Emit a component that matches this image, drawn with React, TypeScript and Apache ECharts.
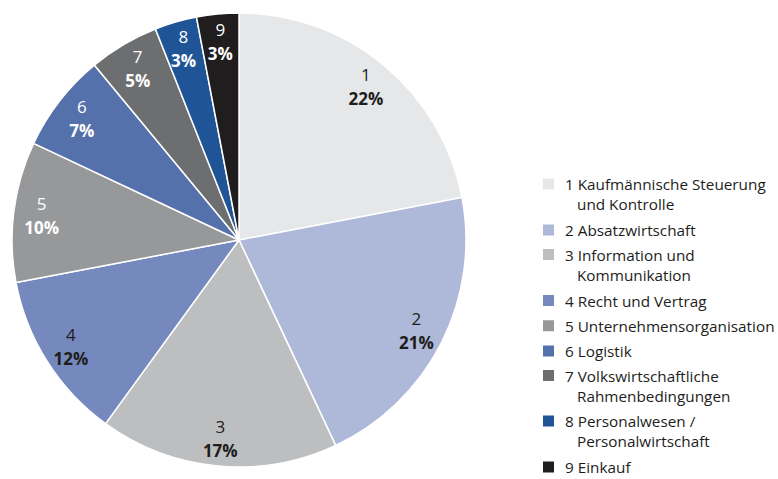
import React, { useEffect, useRef } from "react";
import * as echarts from "echarts";

const ids = ["1", "2", "3", "4", "5", "6", "7", "8", "9"];
const nameLines: string[][] = [
  ["Kaufmännische Steuerung", "und Kontrolle"],
  ["Absatzwirtschaft"],
  ["Information und", "Kommunikation"],
  ["Recht und Vertrag"],
  ["Unternehmensorganisation"],
  ["Logistik"],
  ["Volkswirtschaftliche", "Rahmenbedingungen"],
  ["Personalwesen /", "Personalwirtschaft"],
  ["Einkauf"],
];
const values = [22, 21, 17, 12, 10, 7, 5, 3, 3];
const colors = [
  "#e6e7e8",
  "#aeb8d8",
  "#bdbec0",
  "#7589be",
  "#97989a",
  "#5571ab",
  "#6d6e70",
  "#1f5597",
  "#1f1d1e",
];
const lightLabel = [false, false, false, false, true, true, true, true, true];

const FONT = "'Open Sans', 'Noto Sans', sans-serif";
const LEGEND_FS = 15.3;

export default function App() {
  const ref = useRef<HTMLDivElement>(null);
  useEffect(() => {
    if (!ref.current) return;
    const chart = echarts.init(ref.current, undefined, { renderer: "svg" });
    const names = ids.map((id, i) => `${id} ${nameLines[i].join(" ")}`);
    const data = names.map((n, i) => ({
      name: n,
      value: values[i],
      itemStyle: { color: colors[i] },
    }));

    const L = 20.2;
    const LS = 16;
    const G = 5;
    let center = 186.5;
    const legends: any[] = [];
    names.forEach((n, i) => {
      const lines = nameLines[i];
      const multi = lines.length > 1;
      const lh = multi ? L : LS;
      const top = multi ? center - 1.5 * L : center - 0.5 * LS - 1.5;
      legends.push({
        show: true,
        orient: "vertical",
        left: 541,
        top,
        padding: 0,
        itemWidth: 13,
        itemHeight: 13,
        icon: "rect",
        data: [n],
        formatter: () => {
          const l1 = `{g| }{t|${ids[i]} ${lines[0]}}`;
          if (!multi) return l1;
          return `{b| }\n${l1}\n{g| }{i| }{t|${lines[1]}}`;
        },
        textStyle: {
          fontFamily: FONT,
          fontSize: LEGEND_FS,
          color: "#1d1d1b",
          rich: {
            t: { fontFamily: FONT, fontSize: LEGEND_FS, color: "#1d1d1b", lineHeight: lh },
            g: { width: 5, lineHeight: lh, fontSize: LEGEND_FS },
            i: { width: 12, lineHeight: lh, fontSize: LEGEND_FS },
            b: { lineHeight: lh, fontSize: LEGEND_FS },
          },
        },
      });
      center += lines.length * L + G;
    });

    const richLabel = (color: string) => ({
      n: { fontFamily: FONT, fontSize: 17, color, lineHeight: 24, fontWeight: "normal" },
      p: { fontFamily: FONT, fontSize: 17, color, lineHeight: 24, fontWeight: "bold" },
    });

    chart.setOption({
      animation: false,
      legend: legends,
      series: [
        {
          type: "pie",
          center: [239, 240],
          radius: [0, 227],
          startAngle: 90,
          clockwise: true,
          silent: true,
          label: { show: false },
          labelLine: { show: false },
          itemStyle: { borderColor: "#ffffff", borderWidth: 1.5 },
          data,
        },
        {
          type: "pie",
          center: [239, 240],
          radius: [165, 227],
          startAngle: 90,
          clockwise: true,
          silent: true,
          itemStyle: { color: "rgba(0,0,0,0)", borderWidth: 0 },
          labelLine: { show: false },
          label: {
            show: true,
            position: "inside",
            formatter: (p: any) =>
              lightLabel[p.dataIndex]
                ? `{nw|${ids[p.dataIndex]}}\n{pw|${p.value}%}`
                : `{n|${ids[p.dataIndex]}}\n{p|${p.value}%}`,
            rich: {
              ...richLabel("#1d1d1b"),
              nw: richLabel("#ffffff").n,
              pw: richLabel("#ffffff").p,
            },
          },
          data: data.map((d) => ({ name: d.name, value: d.value })),
        },
      ],
    });
    return () => chart.dispose();
  }, []);
  return (
    <div
      ref={ref}
      style={{ position: "fixed", left: 0, top: 0, width: 778, height: 479, background: "#fff" }}
    />
  );
}
